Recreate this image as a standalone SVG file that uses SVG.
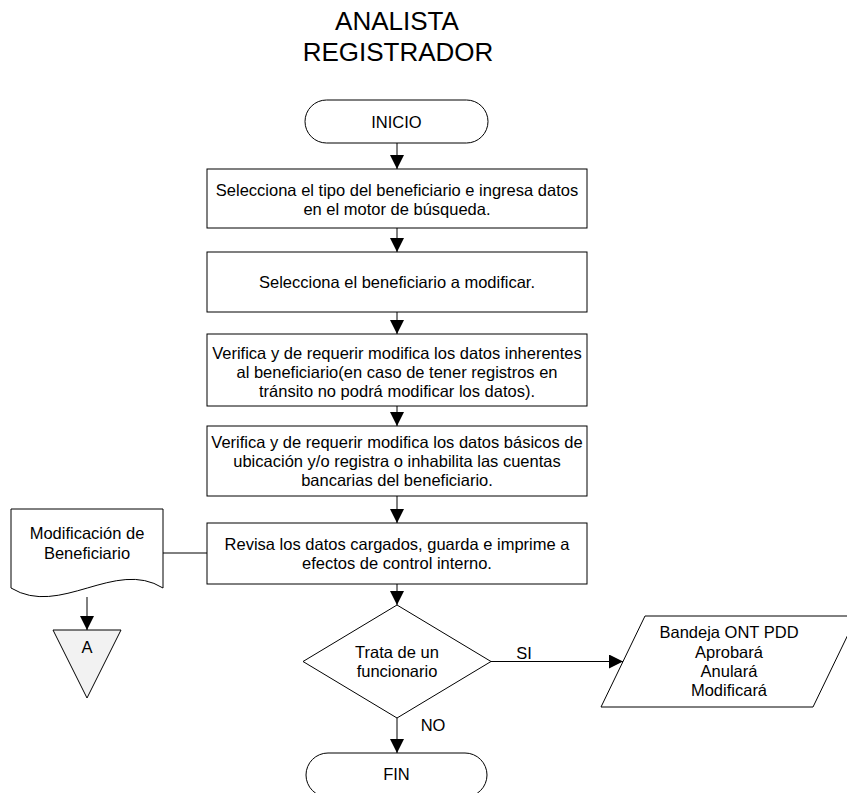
<svg xmlns="http://www.w3.org/2000/svg" width="847" height="793" viewBox="0 0 847 793">
<style>
text{font-family:"Liberation Sans",Arial,sans-serif;font-size:16.5px;fill:#000;text-anchor:middle;dominant-baseline:central}
.title{font-size:26px}
.s{fill:#fff;stroke:#000;stroke-width:1}
.c{fill:none;stroke:#000;stroke-width:1}
</style>
<defs>
<marker id="ah" viewBox="0 0 14 14" refX="14" refY="7" markerWidth="14" markerHeight="14" markerUnits="userSpaceOnUse" orient="auto">
<path d="M0,0 L14,7 L0,14 Z" fill="#000"/>
</marker>
</defs>
<g id="title">
<text class="title" x="397" y="21">ANALISTA</text>
<text class="title" x="398" y="52">REGISTRADOR</text>
</g>
<g id="inicio">
<rect class="s" x="305" y="100" width="183" height="43" rx="21.5"/>
<text x="396.5" y="122">INICIO</text>
</g>
<g id="box1">
<rect class="s" x="207" y="169" width="380" height="59"/>
<text x="397" y="189.5">Selecciona el tipo del beneficiario e ingresa datos</text>
<text x="397" y="208.5">en el motor de búsqueda.</text>
</g>
<g id="box2">
<rect class="s" x="207" y="252" width="380" height="60"/>
<text x="397" y="282">Selecciona el beneficiario a modificar.</text>
</g>
<g id="box3">
<rect class="s" x="207" y="334" width="380" height="72"/>
<text x="397" y="353">Verifica y de requerir modifica los datos inherentes</text>
<text x="397" y="372">al beneficiario(en caso de tener registros en</text>
<text x="397" y="391">tránsito no podrá modificar los datos).</text>
</g>
<g id="box4">
<rect class="s" x="207" y="426" width="380" height="70"/>
<text x="397" y="442">Verifica y de requerir modifica los datos básicos de</text>
<text x="397" y="461">ubicación y/o registra o inhabilita las cuentas</text>
<text x="397" y="480">bancarias del beneficiario.</text>
</g>
<g id="box5">
<rect class="s" x="207" y="523" width="380" height="61"/>
<text x="397" y="544">Revisa los datos cargados, guarda e imprime a</text>
<text x="397" y="563">efectos de control interno.</text>
</g>
<g id="documento">
<path class="s" d="M11,509 H163 V588 C115,558 60,618 11,588 Z"/>
<text x="87" y="533">Modificación de</text>
<text x="87" y="553">Beneficiario</text>
</g>
<g id="conectorA">
<path d="M53,630 H121 L87,698 Z" fill="#f2f2f2" stroke="#000" stroke-width="1"/>
<text x="87" y="647">A</text>
</g>
<g id="decision">
<path class="s" d="M397,605 L491,661.5 L397,718 L303,661.5 Z"/>
<text x="397" y="652">Trata de un</text>
<text x="397" y="671">funcionario</text>
</g>
<g id="bandeja">
<path class="s" d="M645,616 H857 L813,707 H601 Z"/>
<text x="729" y="632">Bandeja ONT PDD</text>
<text x="729" y="652">Aprobará</text>
<text x="729" y="671">Anulará</text>
<text x="729" y="690">Modificará</text>
</g>
<g id="fin">
<rect class="s" x="306" y="753" width="181" height="44" rx="22"/>
<text x="396.5" y="774">FIN</text>
</g>
<g id="connectors">
<path class="c" d="M397,143 V169" marker-end="url(#ah)"/>
<path class="c" d="M397,228 V252" marker-end="url(#ah)"/>
<path class="c" d="M397,312 V334" marker-end="url(#ah)"/>
<path class="c" d="M397,406 V426" marker-end="url(#ah)"/>
<path class="c" d="M397,496 V523" marker-end="url(#ah)"/>
<path class="c" d="M397,584 V605" marker-end="url(#ah)"/>
<path class="c" d="M163,553 H207"/>
<path class="c" d="M87,597 V630" marker-end="url(#ah)"/>
<path class="c" d="M491,661.5 H623" marker-end="url(#ah)"/>
<text x="524" y="653">SI</text>
<path class="c" d="M397,718 V753" marker-end="url(#ah)"/>
<text x="433" y="725">NO</text>
</g>
</svg>
